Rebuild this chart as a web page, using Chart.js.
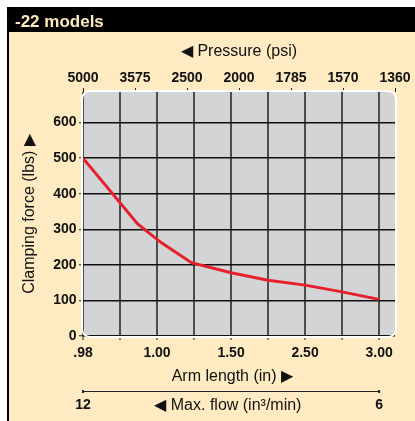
<!DOCTYPE html>
<html>
<head>
<meta charset="utf-8">
<script src="https://cdn.jsdelivr.net/npm/chart.js@4/dist/chart.umd.min.js"></script>
<style>
  html, body { margin: 0; padding: 0; background: #fff; }
  canvas { display: block; }
</style>
</head>
<body>
<canvas id="clampChart" width="415" height="421"></canvas>
<script>
// arm length axis: nine tick slots, every other one labelled
const armTicks = [0, 1, 2, 3, 4, 5, 6, 7, 8];
const armLabels = [".98", "", "1.00", "", "1.50", "", "2.50", "", "3.00"];
// pressure runs evenly across the full top edge
const pressureLabels = ["5000", "3575", "2500", "2000", "1785", "1570", "1360"];
// max flow only marked at both ends of the arm length span
const flowTicks = [0, 8];
const flowLabels = ["12", "6"];
const forceTicks = [0, 100, 200, 300, 400, 500, 600];

// clamping force curve (x in arm length tick slots)
const armPos = [0, 1.47, 2.12, 2.93, 4, 5, 6, 7, 8];
const force = [500, 316, 262, 206, 178, 157, 143, 124, 103];

const xMax = 8.43;
const yMax = 686;

const FONT = "'Liberation Sans', Arial, sans-serif";
Chart.defaults.font.family = FONT;
Chart.defaults.color = "#111";

const tickFont = { size: 14, weight: "bold" };
const titleFont = { size: 16 };
const setTicks = list => scale => { scale.ticks = list.map(v => ({ value: v })); };

const framePlugin = {
  id: "frame",
  beforeDraw(chart) {
    const { ctx, chartArea: a, width, height } = chart;
    ctx.save();
    ctx.fillStyle = "#fff";
    ctx.fillRect(0, 0, width, height);
    ctx.fillStyle = "#feebc1";
    ctx.fillRect(9, 32, width - 9, height - 32);
    // header bar and left rule
    ctx.fillStyle = "#000";
    ctx.fillRect(7, 7, width - 7, 25);
    ctx.fillRect(7, 7, 2, height - 7);
    ctx.fillStyle = "#fce9bf";
    ctx.font = "bold 17px " + FONT;
    ctx.textBaseline = "alphabetic";
    ctx.fillText("-22 models", 15, 26.5);
    // plot panel
    ctx.beginPath();
    ctx.roundRect(a.left - 1, a.top - 1, a.width + 2, a.height + 2, 8);
    ctx.fillStyle = "#d3d4d6";
    ctx.fill();
    ctx.restore();
  },
  beforeDatasetsDraw(chart) {
    const { ctx, chartArea: a } = chart;
    ctx.save();
    ctx.beginPath();
    ctx.roundRect(a.left - 1, a.top - 1, a.width + 2, a.height + 2, 8);
    ctx.strokeStyle = "#fff";
    ctx.lineWidth = 2;
    ctx.stroke();
    // rule above the max flow labels
    const s = chart.scales.flow;
    const x0 = s.getPixelForValue(flowTicks[0]);
    const x1 = s.getPixelForValue(flowTicks[flowTicks.length - 1]);
    ctx.strokeStyle = "#222";
    ctx.lineWidth = 1;
    ctx.beginPath();
    ctx.moveTo(x0, s.top + 0.5);
    ctx.lineTo(x1, s.top + 0.5);
    ctx.stroke();
    ctx.fillStyle = "#222";
    ctx.fillRect(x0 - 1, s.top - 1, 2, 3);
    ctx.fillRect(x1 - 1, s.top - 1, 2, 3);
    ctx.restore();
  }
};

new Chart(document.getElementById("clampChart"), {
  type: "line",
  data: {
    datasets: [{
      data: armPos.map((x, i) => ({ x, y: force[i] })),
      borderColor: "#e8202b",
      borderWidth: 3,
      pointRadius: 0,
      tension: 0,
      fill: false
    }]
  },
  options: {
    responsive: false,
    animation: false,
    layout: { padding: { top: 32, left: 9, right: 20, bottom: 0 } },
    plugins: { legend: { display: false }, tooltip: { enabled: false } },
    scales: {
      x: {
        type: "linear", position: "bottom", weight: 0, min: 0, max: xMax,
        afterBuildTicks: setTicks(armTicks),
        afterFit: s => { s.height = 55; },
        ticks: { autoSkip: false, maxRotation: 0, padding: 4.3, font: tickFont, callback: (v, i) => armLabels[i] },
        grid: { color: "#4d4d4d", lineWidth: 2, tickLength: 4, tickColor: "#222", tickWidth: 1 },
        border: { display: false },
        title: { display: true, text: "Arm length (in) ▶   ", font: titleFont, padding: { top: 0, bottom: 4.4 } }
      },
      flow: {
        type: "linear", position: "bottom", weight: 1, min: 0, max: xMax,
        afterBuildTicks: setTicks(flowTicks),
        afterFit: s => { s.height = 30; },
        ticks: { autoSkip: false, maxRotation: 0, padding: 5.6, font: tickFont, callback: (v, i) => flowLabels[i] },
        grid: { display: false, drawTicks: false },
        border: { display: false },
        title: { display: true, text: "◀ Max. flow (in³/min)     ", font: titleFont, padding: { top: 0, bottom: 5.4 } }
      },
      pressure: {
        type: "linear", position: "top", min: 0, max: xMax,
        afterBuildTicks: setTicks(pressureLabels.map((p, i) => i * xMax / (pressureLabels.length - 1))),
        afterFit: s => { s.height = 60; },
        ticks: { autoSkip: false, maxRotation: 0, padding: 1.6, font: tickFont, callback: (v, i) => pressureLabels[i] },
        grid: { drawOnChartArea: false, tickLength: 4, tickColor: "#222", tickWidth: 1 },
        border: { display: false },
        title: { display: true, text: "◀ Pressure (psi)", font: titleFont, padding: { top: 10.4, bottom: 0 } }
      },
      y: {
        type: "linear", position: "left", min: 0, max: yMax,
        afterBuildTicks: setTicks(forceTicks),
        afterFit: s => { s.width = 74; },
        ticks: { padding: 2.5, font: tickFont },
        grid: { color: "#111", lineWidth: 1.5, tickLength: 4, tickColor: "#222", tickWidth: 1 },
        border: { display: false },
        title: { display: true, text: "Clamping force (lbs) ▶", font: titleFont, padding: { top: 11.4, bottom: 0 } }
      }
    }
  },
  plugins: [framePlugin]
});
</script>
</body>
</html>
